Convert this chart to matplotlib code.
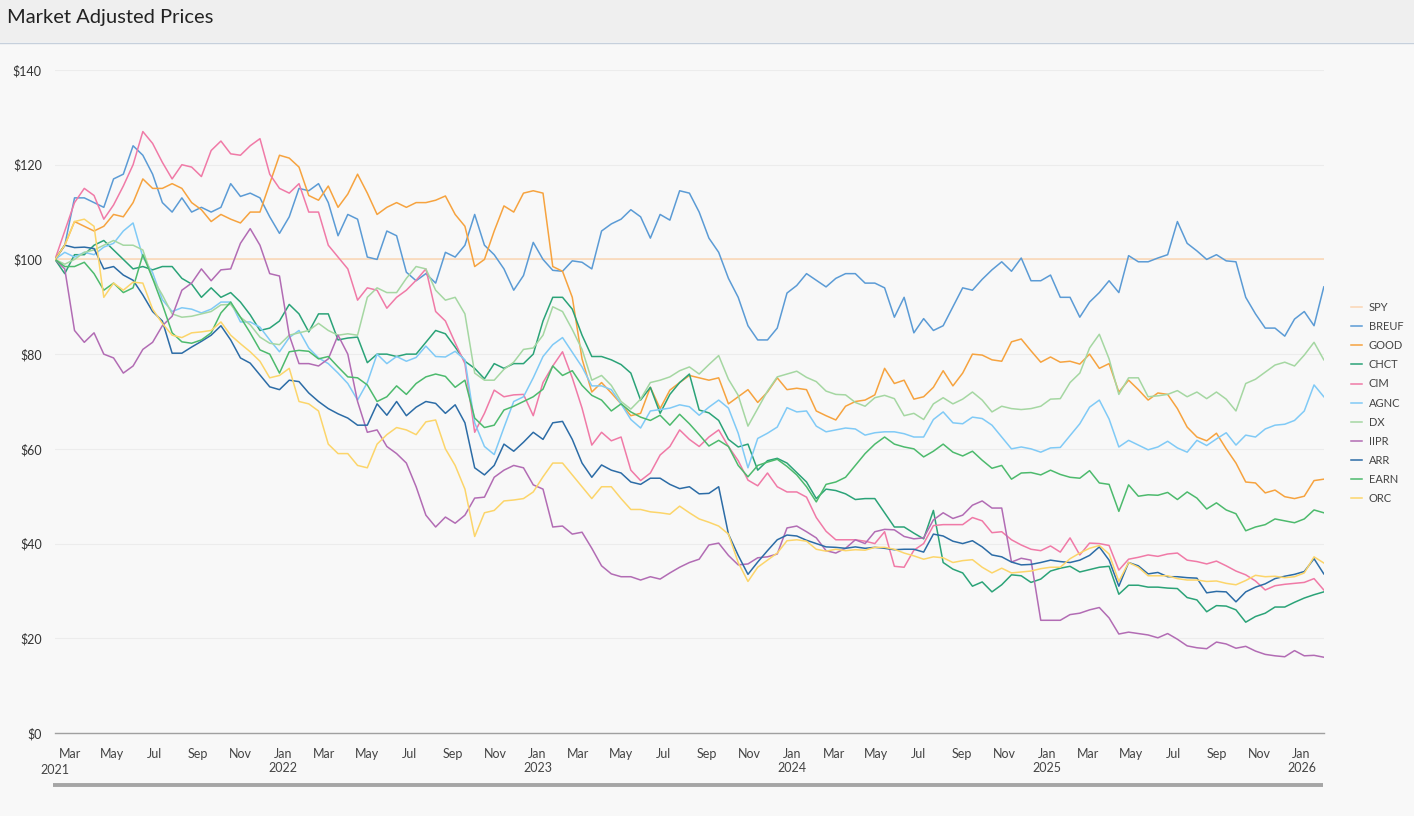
import matplotlib
matplotlib.use("Agg")
import matplotlib.pyplot as plt
import matplotlib.dates as mdates
from matplotlib.lines import Line2D
from matplotlib.patches import Rectangle
from matplotlib.ticker import FuncFormatter
import pandas as pd

plt.rcParams['font.family'] = ['Lato', 'DejaVu Sans']

# fortnightly observations, Feb 2021 .. Jan 2026
dates = pd.date_range("2021-02-08", periods=131, freq="14D")

spy = [
    100, 100, 100, 100, 100, 100, 100, 100, 100, 100,
    100, 100, 100, 100, 100, 100, 100, 100, 100, 100,
    100, 100, 100, 100, 100, 100, 100, 100, 100, 100,
    100, 100, 100, 100, 100, 100, 100, 100, 100, 100,
    100, 100, 100, 100, 100, 100, 100, 100, 100, 100,
    100, 100, 100, 100, 100, 100, 100, 100, 100, 100,
    100, 100, 100, 100, 100, 100, 100, 100, 100, 100,
    100, 100, 100, 100, 100, 100, 100, 100, 100, 100,
    100, 100, 100, 100, 100, 100, 100, 100, 100, 100,
    100, 100, 100, 100, 100, 100, 100, 100, 100, 100,
    100, 100, 100, 100, 100, 100, 100, 100, 100, 100,
    100, 100, 100, 100, 100, 100, 100, 100, 100, 100,
    100, 100, 100, 100, 100, 100, 100, 100, 100, 100,
    100,
]

breuf = [
    100, 103, 113, 113, 112, 111, 117, 118, 124, 122,
    118, 112, 110, 113, 110, 111, 110, 111, 116, 113.3,
    114, 113, 109, 105.5, 109, 115, 114.5, 116, 112, 105,
    109.5, 108.5, 100.5, 100, 106, 105, 97.3, 95.5, 97, 95,
    101.5, 100.5, 103, 109.5, 103, 101, 98, 93.5, 96.6, 103.6,
    100, 97.7, 97.5, 99.7, 99.4, 98, 106, 107.5, 108.5, 110.5,
    109, 104.5, 109.5, 108.3, 114.5, 114, 110, 104.5, 101.5, 96,
    92, 86, 83, 83, 85.5, 92.9, 94.5, 97, 95.6, 94.2,
    96, 97, 97, 95, 95, 94, 87.8, 92, 84.5, 87.5,
    85, 86, 90, 94, 93.5, 95.8, 97.8, 99.5, 97.5, 100.3,
    95.5, 95.5, 96.7, 92, 92, 87.8, 91, 93, 95.5, 93,
    100.8, 99.5, 99.5, 100.3, 101, 108, 103.4, 101.8, 100, 101,
    99.7, 99.5, 92, 88.5, 85.5, 85.5, 83.8, 87.4, 89, 86,
    94.2,
]

good = [
    100, 103, 108, 107, 106, 107, 109.5, 109, 112, 117,
    115, 115, 116, 115, 112, 110.5, 108, 109.5, 108.5, 107.7,
    110, 110, 116, 122, 121.4, 119.5, 113.5, 112.5, 115.5, 111,
    113.8, 118, 114, 109.5, 111, 112, 111, 112, 112, 112.5,
    113.4, 109.5, 107, 98.5, 100, 106, 111.3, 110, 114, 114.5,
    114, 98.5, 97.5, 92, 79, 72, 74, 71.8, 69.5, 67,
    67.5, 73, 68.5, 72.4, 74, 75.5, 75, 74.5, 75, 69.5,
    71, 72.5, 69.8, 72, 75, 72.5, 72.8, 72.5, 68, 67,
    66.1, 69, 70, 70.3, 71.4, 77, 73.8, 74.5, 70.5, 71,
    73, 76.5, 73.3, 76, 80, 79.8, 78.8, 78.5, 82.6, 83.2,
    80.7, 78.3, 79.4, 78.3, 78.5, 77.9, 80, 77, 78, 72,
    74.5, 72.5, 70.3, 71.8, 71.5, 68.5, 64.6, 62.5, 61.7, 63.3,
    60, 57, 53, 52.8, 50.7, 51.3, 49.9, 49.5, 50, 53.3,
    53.6,
]

chct = [
    100, 97, 101, 101, 103, 104, 102, 100, 98, 98.5,
    97.8, 98.5, 98.5, 96, 94.8, 92, 94, 92, 93, 91,
    88.3, 85, 85.5, 87, 90.5, 88.5, 84.7, 88.5, 88.5, 83,
    83.4, 83.6, 78.2, 80, 80, 79.5, 80, 80, 82.5, 85,
    84.3, 81.5, 78.5, 77, 74.8, 78, 77, 78, 78, 80,
    87, 92, 92, 89.5, 84, 79.5, 79.5, 78.8, 77.8, 76,
    70.3, 73, 67.5, 71.5, 74, 75.8, 68.2, 67.6, 66, 62,
    60.4, 61, 55.5, 57.5, 58, 57, 55, 53, 49.5, 51.5,
    51.2, 50.5, 49.3, 49.5, 49.5, 46.5, 43.5, 43.5, 42.2, 41,
    47, 36, 34.6, 33.8, 31, 31.9, 29.8, 31.3, 33.4, 33.2,
    31.8, 32.5, 34.2, 34.8, 35.2, 34, 34.5, 35, 35.2, 29.3,
    31.2, 31.2, 30.8, 30.8, 30.6, 30.5, 28.6, 28.1, 25.6, 26.9,
    26.8, 26, 23.4, 24.6, 25.3, 26.6, 26.6, 27.6, 28.5, 29.2,
    29.8,
]

cim = [
    100, 106, 112, 115, 113.5, 108.5, 111.5, 115.5, 120, 127,
    124.5, 120.5, 117, 120, 119.5, 117.5, 123, 125, 122.3, 122,
    124, 125.5, 118, 115, 114, 116, 110, 110, 103, 100.5,
    98, 91.4, 94, 93.5, 89.7, 92, 93.5, 95.6, 98, 89,
    87, 82.4, 78, 63.5, 67.5, 72.4, 71, 71.4, 71.5, 67,
    74, 77.5, 80.5, 75, 68.6, 60.8, 63.5, 61.7, 62.5, 55.5,
    53.3, 54.9, 58.7, 60.5, 64, 62, 60.5, 62.5, 64, 60.5,
    57.5, 53.4, 52.2, 54.9, 52, 50.9, 50.9, 49.8, 45.5, 42.6,
    40.8, 40.8, 40.8, 40.5, 40, 42.5, 35.2, 35, 38.6, 40,
    43.8, 44, 44, 44, 45.5, 44.8, 42.3, 42.5, 40.8, 39.7,
    38.8, 38.5, 39.5, 38.2, 41.2, 37.6, 40.1, 40, 39.6, 34.4,
    36.7, 37.1, 37.6, 37.3, 37.8, 38, 36.5, 36.2, 35.7, 36.3,
    35.3, 34.2, 33.4, 32.1, 30.2, 31.1, 31.4, 31.6, 31.8, 32.6,
    30.2,
]

agnc = [
    100, 101.5, 100.5, 101.5, 101, 102.6, 103.4, 106, 107.7, 100.5,
    97.2, 91.5, 89, 89.8, 89.5, 88.7, 89.5, 91, 91, 86.8,
    86.8, 85.7, 83, 80.5, 83.5, 85, 81.3, 79.2, 78, 76,
    73.8, 70.3, 74, 80, 78, 79.5, 78.5, 79.3, 81.7, 79.5,
    79.4, 80.6, 78.8, 65.5, 60.5, 58.8, 64.5, 70, 71, 75,
    79.5, 82, 83.5, 80.4, 77.3, 73.3, 73.3, 72.5, 69.5, 66.2,
    64.4, 68, 68.3, 68.6, 69.3, 68.9, 67.1, 68.8, 70.3, 68.6,
    63.3, 56, 62.2, 63.3, 64.6, 68.7, 67.8, 68, 64.8, 63.6,
    64, 64.4, 64.2, 62.9, 63.4, 63.6, 63.6, 63.2, 62.5, 62.5,
    66.2, 67.8, 65.5, 65.3, 66.7, 66.4, 65, 62.5, 60, 60.4,
    60, 59.3, 60.2, 60.3, 62.8, 65.3, 68.8, 70.3, 66.3, 60.4,
    61.8, 60.8, 59.8, 60.4, 61.6, 60.2, 59.3, 61.8, 60.7, 62.1,
    63.4, 60.8, 62.9, 62.5, 64.2, 65, 65.2, 66, 68, 73.5,
    71,
]

dx = [
    100, 99, 100, 101.5, 102, 103, 104, 103, 103, 102,
    96, 92.5, 88.5, 87.8, 88, 88.5, 89, 90.4, 90.5, 87.8,
    86.2, 83.6, 82.3, 82, 84, 84.5, 85, 86.5, 85, 84,
    84.3, 84, 92, 94, 93, 93, 96, 98.5, 98, 93.5,
    91.4, 92, 88.5, 76, 74.5, 74.5, 76.8, 78.3, 81, 81.3,
    84, 90, 89, 85.2, 81, 74.5, 75.5, 73.4, 70, 68.4,
    70.5, 74, 74.5, 75.2, 76.5, 77.3, 75.8, 77.8, 79.7, 74.7,
    71.3, 64.8, 68.5, 72.2, 75.2, 75.8, 76.4, 75.1, 74.2, 72.2,
    71.5, 71.4, 69.8, 69, 70.8, 71.3, 70.6, 67, 67.5, 66.2,
    69.5, 70.8, 69.5, 70.5, 72, 70.3, 67.8, 69, 68.5, 68.3,
    68.5, 69, 70.5, 70.6, 74, 76, 81.3, 84.2, 79, 71.5,
    75, 75, 71, 71.2, 71.5, 72.3, 71, 72, 70.6, 72,
    70.5, 68, 73.8, 74.7, 76.2, 77.7, 78.3, 77.5, 79.8, 82.5,
    78.8,
]

iipr = [
    100, 98, 85, 82.5, 84.5, 80, 79.2, 76, 77.5, 81,
    82.5, 86, 88, 93.5, 95, 98, 95.5, 97.8, 98, 103.4,
    106.5, 103, 97, 96.5, 84, 78, 78, 77.5, 79, 84,
    80, 70, 63.5, 64, 60.5, 59, 57, 52, 46, 43.5,
    45.6, 44.3, 46, 49.6, 49.8, 54, 55.5, 56.5, 56, 52.4,
    51.5, 43.5, 43.7, 42, 42.4, 39, 35.3, 33.6, 33, 33,
    32.3, 33, 32.5, 33.8, 35, 36, 36.7, 39.7, 40.1, 37.5,
    35.5, 35.7, 37, 37.2, 37.8, 43.3, 43.7, 42.5, 41.2, 38.5,
    38, 39, 40.8, 40, 42.5, 43, 42.9, 41.5, 41, 41.2,
    45, 46.5, 45.3, 46, 48.1, 49, 47.5, 47.5, 36.1, 36.9,
    36.5, 23.8, 23.8, 23.8, 25, 25.3, 26, 26.5, 24.3, 20.9,
    21.3, 21, 20.7, 20.1, 21, 19.8, 18.4, 18, 17.8, 19.2,
    18.8, 17.9, 18.3, 17.3, 16.6, 16.3, 16.1, 17.4, 16.3, 16.4,
    16,
]

arr = [
    100, 103, 102.5, 102.6, 102.3, 98, 98.5, 96.7, 95.6, 92.5,
    89, 87, 80.2, 80.2, 81.5, 82.7, 84, 86, 83, 79.2,
    78.1, 75.6, 73.1, 72.5, 74.5, 74.2, 71.8, 70, 68.5, 67.4,
    66.5, 65, 65, 69.5, 67.1, 70, 67, 68.8, 70, 69.6,
    67.5, 69.3, 65.5, 56, 54.5, 56.5, 61, 59.5, 61.4, 63.5,
    62, 65.5, 65.8, 62, 57, 54, 56.6, 55.5, 54.9, 53,
    52.5, 53.8, 53.8, 52.5, 51.6, 52, 50.5, 50.6, 52, 42,
    37.5, 33.5, 36.1, 38.5, 40.8, 41.8, 41.6, 40.7, 40, 39.3,
    39.2, 39, 39.3, 39, 39.2, 39, 38.7, 38.8, 38.8, 38.2,
    42, 41.6, 40.5, 40, 40.6, 39.3, 37.6, 37.2, 36.1, 35.5,
    35.6, 36, 36.5, 36.2, 36, 36.5, 37.5, 39.3, 36.5, 31,
    36, 35.3, 33.6, 33.9, 33, 33, 32.8, 32.7, 29.6, 29.9,
    29.8, 27.7, 29.8, 30.8, 31.5, 32.6, 33.1, 33.5, 34.1, 36.8,
    33.6,
]

earn = [
    100, 98.5, 98.5, 99.4, 97, 93.5, 95, 93, 94, 101,
    96, 90.5, 84.5, 82.6, 82.3, 83, 84.5, 88.7, 91, 87.8,
    84.5, 80.9, 80, 76, 80.5, 80.8, 80.6, 79, 79.5, 77.3,
    75.2, 75, 73.5, 70, 71, 73.3, 71.5, 73.8, 75.2, 75.8,
    75.3, 73, 74.5, 66.5, 64.5, 65, 68.2, 69, 70, 71,
    72.6, 77.5, 75.5, 76.5, 73.4, 71.3, 70.3, 68, 69.5, 67.8,
    66.7, 66, 67.1, 65, 67.3, 65.3, 63, 60.6, 61.8, 60.5,
    56.5, 54.1, 56.5, 57.2, 57.8, 56.3, 54.5, 52, 48.8, 52.5,
    53, 54, 56.5, 59, 61, 62.5, 61, 60.4, 60, 58.3,
    59.5, 61, 59.3, 58.5, 59.5, 57.6, 55.9, 56.5, 53.6, 54.9,
    55, 54.5, 55.5, 54.6, 54, 53.8, 55.4, 52.8, 52.5, 46.8,
    52.4, 50, 50.3, 50.2, 50.8, 49.3, 50.9, 49.6, 47.3, 48.6,
    47.1, 46.3, 42.7, 43.5, 44, 45.2, 44.8, 44.4, 45.2, 47.1,
    46.5,
]

orc = [
    100, 103, 108, 108.5, 107, 92, 95, 93.5, 95.2, 95,
    89.5, 86.5, 84, 83.5, 84.5, 84.7, 85, 86.8, 84, 82.2,
    80.5, 78.5, 75, 75.5, 77, 70, 69.5, 68, 61, 59,
    59, 56.5, 56, 61, 63, 64.5, 64, 63, 65.7, 66.1,
    60, 56.5, 51.5, 41.5, 46.5, 47, 49, 49.2, 49.5, 50.9,
    54.1, 57, 57, 54.5, 52, 49.5, 52, 52, 49.5, 47.2,
    47.2, 46.7, 46.5, 46.2, 47.9, 46.5, 45.2, 44.5, 43.7, 42,
    36, 32, 35, 36.5, 38, 40.6, 40.8, 40.5, 38.8, 38.4,
    38.8, 38.5, 38.7, 38.6, 39.2, 39.2, 38.8, 38, 37.4, 36.7,
    37.2, 37, 36, 36.4, 36.6, 35, 33.8, 34.8, 33.8, 34,
    34.2, 34.7, 35, 35, 36.8, 38, 39, 39.6, 37.8, 32,
    36, 35, 33.2, 33.2, 33.2, 32.6, 32.3, 32.3, 32, 32.1,
    31.6, 31.3, 32.2, 33.3, 33, 33.1, 32.8, 33, 33.8, 37.2,
    35.9,
]

series = [
    ("SPY", spy, "#fbd6b3"),
    ("BREUF", breuf, "#5b9bd5"),
    ("GOOD", good, "#f6a33f"),
    ("CHCT", chct, "#2ba378"),
    ("CIM", cim, "#f07aa7"),
    ("AGNC", agnc, "#80caf6"),
    ("DX", dx, "#a5d7a2"),
    ("IIPR", iipr, "#b26cb4"),
    ("ARR", arr, "#2c6ca6"),
    ("EARN", earn, "#4dba6d"),
    ("ORC", orc, "#fcd56a"),
]

W, H = 1414, 816
fig = plt.figure(figsize=(W / 100, H / 100), dpi=100, facecolor="#f8f8f8")

# header band with title
fig.patches.append(Rectangle((0, 1 - 42 / H), 1, 42 / H, transform=fig.transFigure,
                             facecolor="#efefef", edgecolor="none", zorder=0))
fig.add_artist(Line2D([0, 1], [1 - 42.5 / H] * 2, transform=fig.transFigure,
                      color="#c6d0dc", lw=1))
fig.text(7 / W, 1 - 18 / H, "Market Adjusted Prices", fontsize=14.5,
         color="#222222", ha="left", va="center")

ax = fig.add_axes([55 / W, 83 / H, (1323.8 - 55) / W, 663 / H])
ax.set_facecolor("#f8f8f8")

lines = []
for name, vals, color in series:
    ln, = ax.plot(dates, vals, color=color, lw=1.1, label=name)
    lines.append(ln)

ax.set_xlim(dates[0], dates[-1])
ax.set_ylim(0, 140)

ax.set_yticks(range(0, 141, 20))
ax.yaxis.set_major_formatter(FuncFormatter(lambda v, p: f"${v:.0f}"))
ax.tick_params(axis="y", length=0, pad=9.5, labelsize=9, labelcolor="#333333")
ax.grid(axis="y", color="#ececec", lw=0.8)

def month_label(x, pos):
    d = mdates.num2date(x)
    if d.month == 1:
        return d.strftime("%b\n%Y")
    return d.strftime("%b")

ax.xaxis.set_major_locator(mdates.MonthLocator(bymonth=(1, 3, 5, 7, 9, 11)))
ax.xaxis.set_major_formatter(FuncFormatter(month_label))
ax.xaxis.set_minor_locator(mdates.YearLocator())
ax.tick_params(axis="x", which="both", length=0, pad=10.5, labelsize=9, labelcolor="#444444")
ax.grid(axis="x", which="minor", color="#ececec", lw=0.8)
ax.set_axisbelow(True)

for side in ["top", "right", "left"]:
    ax.spines[side].set_visible(False)
ax.spines["bottom"].set_color("#a0a0a0")
ax.spines["bottom"].set_linewidth(1)

ax.annotate("2021", xy=(dates[0], 0), xytext=(0, -22), textcoords="offset points",
            ha="center", va="top", fontsize=9, color="#444444", annotation_clip=False)

# scrollbar under the axis
fig.add_artist(Line2D([53 / W, 1323 / W], [1 - 785 / H] * 2, transform=fig.transFigure,
                      color="#a5a5a5", lw=2.8, solid_capstyle="butt"))

leg = fig.legend(handles=lines, loc="upper left", bbox_to_anchor=(1351 / W, 1 - 302 / H),
                 frameon=False, fontsize=8, handlelength=1.0, handletextpad=0.6,
                 labelspacing=0.73, borderaxespad=0, borderpad=0)
for t in leg.get_texts():
    t.set_color("#444444")

fig.savefig("out.png", dpi=100, facecolor=fig.get_facecolor())
